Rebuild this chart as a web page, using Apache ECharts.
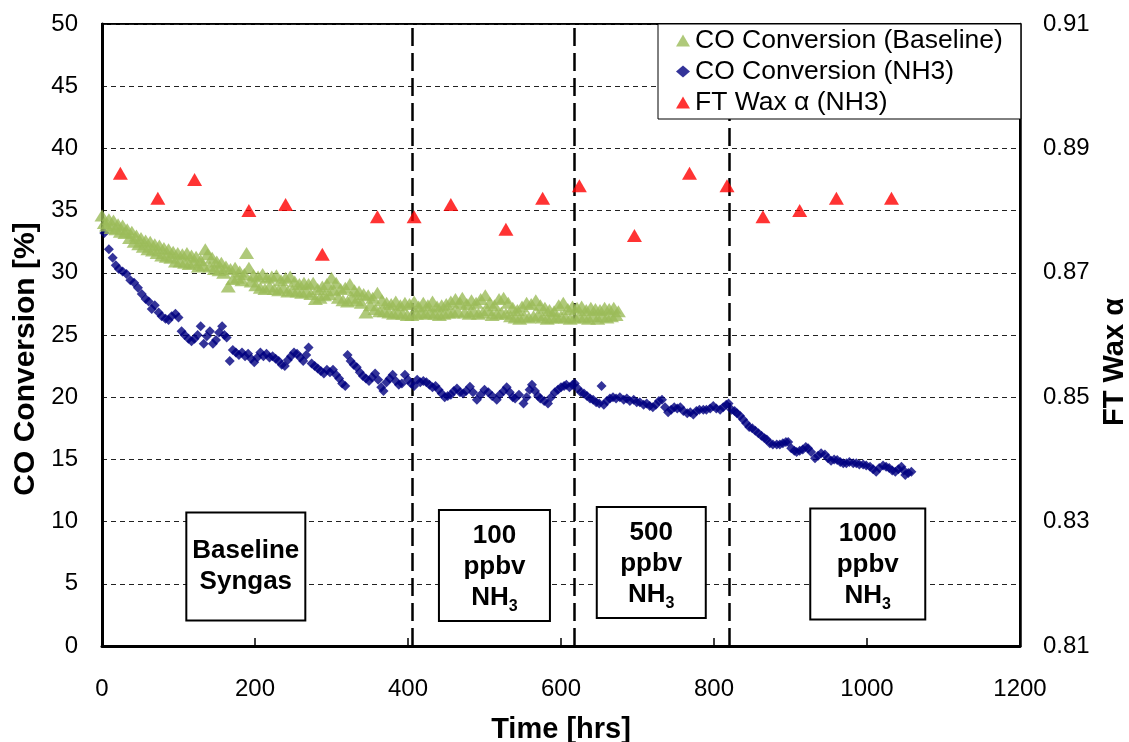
<!DOCTYPE html>
<html><head><meta charset="utf-8">
<script src="https://cdn.jsdelivr.net/npm/echarts@6/dist/echarts.min.js"></script>
<style>html,body{margin:0;padding:0;background:#fff}#c{width:1129px;height:742px}</style>
</head><body><div id="c"></div>
<script>
// ---- DATA ----
const seriesNames = ["CO Conversion (Baseline)", "CO Conversion (NH3)", "FT Wax α (NH3)"];
// [time (hrs), CO conversion %]
const baselineConv = [
[0,34.6],[3,34.0],[6,33.8],[9,34.3],[12,33.6],[15,34.2],[18,33.5],[21,33.9],[24,33.3],[27,33.8],
[30,33.2],[33,33.5],[36,32.8],[39,33.3],[42,32.5],[45,33.0],[48,32.3],[51,32.8],[54,32.1],[57,32.6],
[60,31.9],[63,32.5],[66,31.8],[69,32.3],[72,31.6],[75,32.2],[78,31.4],[81,32.0],[84,31.3],[87,31.9],
[90,31.2],[93,31.7],[96,30.9],[99,31.6],[102,30.9],[105,31.5],[108,30.8],[111,31.6],[114,30.7],[117,31.4],
[120,30.8],[123,31.3],[126,30.5],[129,31.0],[132,30.6],[135,31.9],[138,31.5],[141,30.5],[144,31.2],[147,30.3],
[150,30.9],[153,30.2],[156,30.8],[159,30.0],[162,30.5],[165,28.9],[168,30.3],[171,29.5],[174,30.4],[177,29.6],
[180,30.1],[183,29.4],[186,29.9],[189,31.6],[192,30.4],[195,29.3],[198,29.8],[201,29.0],[204,29.7],[207,28.8],
[210,29.9],[213,28.7],[216,29.6],[219,28.9],[222,29.7],[225,28.7],[228,29.8],[231,28.6],[234,29.4],[237,28.8],
[240,29.6],[243,28.5],[246,29.7],[249,28.6],[252,29.3],[255,28.5],[258,29.1],[261,28.4],[264,29.2],[267,28.5],
[270,29.1],[273,28.3],[276,29.2],[279,27.9],[282,28.7],[285,28.0],[288,28.9],[291,28.2],[294,29.1],[297,28.3],
[300,29.6],[303,28.6],[306,29.2],[309,28.0],[312,28.7],[315,27.8],[318,28.8],[321,27.7],[324,29.1],[327,28.0],
[330,28.6],[333,27.8],[336,28.5],[339,27.6],[342,28.3],[345,26.8],[348,28.2],[351,27.4],[354,28.0],[357,27.1],
[360,28.4],[363,26.9],[366,27.8],[369,26.9],[372,27.6],[375,26.8],[378,27.5],[381,26.7],[384,27.7],[387,26.8],
[390,27.4],[393,26.7],[396,27.6],[399,26.6],[402,27.5],[405,26.6],[408,27.7],[411,26.7],[414,27.3],[417,26.8],
[420,27.6],[423,26.7],[426,27.4],[429,26.8],[432,27.7],[435,26.7],[438,27.3],[441,26.6],[444,27.4],[447,26.7],
[450,27.5],[453,26.8],[456,27.7],[459,26.8],[462,27.9],[465,26.9],[468,27.6],[471,28.0],[474,26.8],[477,27.5],
[480,26.7],[483,27.8],[486,26.9],[489,27.6],[492,26.7],[495,27.9],[498,26.8],[501,28.2],[504,27.0],[507,27.6],
[510,26.6],[513,27.4],[516,26.7],[519,27.9],[522,26.8],[525,28.0],[528,26.7],[531,27.6],[534,26.5],[537,27.2],
[540,26.4],[543,27.0],[546,26.3],[549,27.3],[552,26.5],[555,27.6],[558,26.4],[561,27.5],[564,26.5],[567,27.8],
[570,26.6],[573,27.4],[576,26.4],[579,27.2],[582,26.3],[585,27.0],[588,26.4],[591,26.9],[594,26.4],[597,27.4],
[600,26.5],[603,27.6],[606,26.4],[609,27.1],[612,26.3],[615,27.3],[618,26.4],[621,27.2],[624,26.5],[627,27.3],
[630,26.4],[633,27.0],[636,26.3],[639,27.2],[642,26.5],[645,27.1],[648,26.3],[651,27.0],[654,26.5],[657,27.2],
[660,26.4],[663,27.1],[666,26.5],[669,27.2],[672,26.6],[675,26.9]
];
const nh3Conv = [
[3,33.2],[9,31.9],[14,31.2],[18,30.6],[22,30.3],[27,30.1],[32,29.9],[37,29.4],[42,29.2],[47,28.8],
[52,28.3],[57,27.9],[61,27.7],[65,27.1],[69,27.4],[74,26.8],[78,26.5],[83,26.3],[87,26.2],[91,26.5],
[96,26.7],[100,26.4],[104,25.3],[108,25.0],[113,24.7],[117,24.5],[121,24.7],[125,25.0],[129,25.7],[133,24.3],
[137,24.9],[141,25.3],[145,24.3],[149,24.6],[153,25.2],[157,25.7],[160,25.0],[163,24.8],[167,22.9],[171,23.8],
[175,23.6],[179,23.4],[183,23.6],[187,23.3],[191,23.5],[195,23.1],[199,22.8],[203,23.2],[207,23.6],[211,23.3],
[215,23.5],[219,23.2],[223,23.3],[227,23.1],[231,22.9],[235,22.6],[239,22.5],[243,23.0],[247,23.3],[251,23.6],
[255,23.5],[259,23.2],[263,22.9],[267,23.4],[270,24.0],[274,22.7],[278,22.5],[282,22.3],[286,22.1],[290,21.9],
[294,22.2],[298,22.0],[302,22.2],[306,21.8],[310,21.5],[314,21.1],[318,20.9],[321,23.4],[325,22.9],[329,22.6],
[333,22.4],[337,22.0],[341,21.7],[345,21.5],[349,21.3],[353,21.6],[357,21.9],[361,21.4],[365,20.8],[368,20.5],
[372,21.2],[376,21.5],[380,21.8],[384,21.3],[388,21.0],[392,21.1],[396,21.8],[400,21.4],[404,21.1],[408,20.9],
[412,21.4],[416,21.2],[420,21.3],[424,21.2],[428,21.0],[432,20.8],[436,20.9],[440,20.6],[444,20.3],[448,20.0],
[452,20.1],[456,20.2],[460,20.5],[464,20.7],[468,20.4],[472,20.3],[476,20.5],[481,20.85],[485,20.4],[490,19.8],
[495,20.2],[500,20.6],[505,20.4],[510,20.1],[516,19.8],[520,20.2],[525,20.5],[529,20.8],[533,20.4],[537,20.0],
[540,19.9],[545,20.2],[551,19.5],[555,20.0],[559,20.6],[562,21.0],[566,20.5],[570,20.1],[573,19.9],[578,19.7],
[583,19.5],[587,20.0],[592,20.4],[596,20.6],[600,20.8],[604,20.9],[607,21.0],[611,20.8],[615,21.0],[618,21.1],
[622,20.7],[626,20.4],[630,20.3],[634,20.1],[638,19.9],[642,19.8],[646,19.6],[650,19.5],[653,20.9],[656,19.4],
[660,19.7],[664,19.9],[668,20.0],[672,19.9],[677,20.0],[682,19.8],[686,19.9],[690,19.7],[695,19.8],[699,19.6],
[703,19.6],[708,19.4],[712,19.5],[716,19.3],[720,19.2],[724,19.4],[728,19.7],[732,19.8],[736,19.2],[740,18.8],
[744,19.0],[748,19.2],[752,19.1],[756,19.2],[760,18.9],[765,18.7],[769,18.8],[773,18.6],[777,18.9],[781,19.0],
[786,19.0],[790,19.0],[795,19.1],[799,19.3],[803,19.1],[808,19.0],[812,19.2],[816,19.4],[819,19.5],[823,19.0],
[827,18.9],[830,18.7],[834,18.5],[838,18.2],[842,17.9],[846,17.6],[850,17.5],[854,17.3],[858,17.1],[862,16.9],
[866,16.7],[869,16.6],[873,16.3],[877,16.2],[882,16.2],[886,16.2],[890,16.3],[894,16.4],[897,16.4],[901,15.9],
[905,15.7],[908,15.6],[912,15.7],[916,15.8],[920,16.0],[923,15.9],[927,15.6],[932,15.1],[936,15.3],[940,15.5],
[945,15.4],[949,15.1],[953,14.9],[957,15.0],[961,14.95],[965,14.8],[969,14.7],[973,14.7],[977,14.8],[982,14.7],
[986,14.7],[990,14.6],[995,14.6],[999,14.5],[1004,14.4],[1008,14.2],[1012,14.0],[1016,14.3],[1021,14.5],[1025,14.4],
[1029,14.3],[1033,14.1],[1037,14.0],[1041,14.2],[1045,14.4],[1048,14.1],[1050,13.75],[1054,13.9],[1058,14.0]
];
// [time (hrs), FT wax alpha]
const waxAlpha = [
[24,0.886],[73,0.882],[121,0.885],[192,0.880],[240,0.881],[288,0.873],[360,0.879],[408,0.879],[456,0.881],[528,0.877],
[576,0.882],[624,0.884],[696,0.876],[768,0.886],[817,0.884],[864,0.879],[912,0.880],[960,0.882],[1032,0.882]
];
// NH3 step changes (hrs)
const phaseBoundaries = [405, 617, 820];
// period annotations: [time, conversion, text]
const phaseLabels = [
  [188, 6.4, "Baseline\nSyngas"],
  [513, 6.47, "100\nppbv\nNH{s|3}"],
  [718, 6.71, "500\nppbv\nNH{s|3}"],
  [1001, 6.59, "1000\nppbv\nNH{s|3}"]
];
const boxWidths = [121, 113, 111, 117];

// ---- CHART ----
const FONT = "'Liberation Sans', Arial, sans-serif";
const chart = echarts.init(document.getElementById('c'));
const labelBase = {
  show: true, position: 'inside', color: '#000', fontFamily: FONT, fontSize: 26, fontWeight: 'bold',
  lineHeight: 31, backgroundColor: '#fff', borderColor: '#000', borderWidth: 2, align: 'center',
  rich: { s: { fontFamily: FONT, fontSize: 16, fontWeight: 'bold', color: '#000', padding: [18, 0, 0, 0], verticalAlign: 'middle' } }
};
chart.setOption({
  animation: false,
  backgroundColor: '#fff',
  grid: { left: 102, right: 109, top: 24, bottom: 96, outerBoundsMode: 'none', containLabel: false,
          show: true, borderColor: '#000', borderWidth: 2, backgroundColor: 'transparent' },
  legend: {
    left: 658, top: 24, orient: 'vertical', itemGap: 4, itemWidth: 14, itemHeight: 12, z: 10,
    padding: [3, 18, 3, 18], backgroundColor: '#fff', borderColor: '#000', borderWidth: 1,
    textStyle: { fontFamily: FONT, fontSize: 26.5, color: '#000' },
    data: [
      { name: seriesNames[0], icon: 'triangle' },
      { name: seriesNames[1], icon: 'diamond' },
      { name: seriesNames[2], icon: 'triangle' }
    ]
  },
  xAxis: {
    type: 'value', min: 0, max: 1200, interval: 200,
    name: 'Time [hrs]', nameLocation: 'middle', nameGap: 69,
    nameTextStyle: { fontFamily: FONT, fontSize: 29, fontWeight: 'bold', color: '#000' },
    axisLine: { show: true, onZero: false, lineStyle: { color: '#000', width: 3 } },
    axisTick: { show: true, inside: true, length: 8, lineStyle: { color: '#000', width: 1.5 } },
    axisLabel: { fontFamily: FONT, fontSize: 24, color: '#000', margin: 31, formatter: v => String(v) },
    splitLine: { show: false }
  },
  yAxis: [{
    type: 'value', min: 0, max: 50, interval: 5, position: 'left',
    name: 'CO Conversion [%]', nameLocation: 'middle', nameGap: 58, nameRotate: 90,
    nameTextStyle: { fontFamily: FONT, fontSize: 30, fontWeight: 'bold', color: '#000', padding: [0, 48, 0, 0] },
    axisLine: { show: true, lineStyle: { color: '#000', width: 3 } },
    axisTick: { show: false },
    axisLabel: { fontFamily: FONT, fontSize: 24, color: '#000', margin: 24 },
    splitLine: { show: true, lineStyle: { color: '#222', width: 1.2, type: [5, 4] } }
  }, {
    type: 'value', min: 0.81, max: 0.91, interval: 0.02, position: 'right',
    name: 'FT Wax α', nameLocation: 'middle', nameGap: 74, nameRotate: 90,
    nameTextStyle: { fontFamily: FONT, fontSize: 29, fontWeight: 'bold', color: '#000', padding: [0, 54, 0, 0] },
    axisLine: { show: true, lineStyle: { color: '#000', width: 2.5 } },
    axisTick: { show: false },
    axisLabel: { fontFamily: FONT, fontSize: 24, color: '#000', margin: 23, formatter: v => v.toFixed(2) },
    splitLine: { show: false }
  }],
  series: [{
    name: seriesNames[0], type: 'scatter', data: baselineConv,
    symbol: 'triangle', symbolSize: [15, 12], itemStyle: { color: '#9BBB59' }, z: 3,
    markLine: {
      silent: true, symbol: 'none', label: { show: false }, z: 1,
      lineStyle: { color: '#000', width: 2.5, type: [18, 7] },
      data: phaseBoundaries.map(t => ({ xAxis: t }))
    }
  }, {
    name: seriesNames[1], type: 'scatter', data: nh3Conv,
    symbol: 'diamond', symbolSize: 10, itemStyle: { color: '#000080' }, z: 2,
    markPoint: {
      silent: true, symbol: 'rect', symbolSize: 1, itemStyle: { color: 'rgba(0,0,0,0)' },
      data: phaseLabels.map((p, i) => ({
        coord: [p[0], p[1]], value: p[2],
        label: Object.assign({}, labelBase, {
          formatter: p[2], width: boxWidths[i] - 4,
          padding: p[2].split('\n').length === 2 ? [22, 0, 22, 0] : [9, 0, 7, 0]
        })
      }))
    }
  }, {
    name: seriesNames[2], type: 'scatter', yAxisIndex: 1, data: waxAlpha,
    symbol: 'triangle', symbolSize: [15, 13], itemStyle: { color: '#FF0000' }, z: 4
  }]
});
</script></body></html>
